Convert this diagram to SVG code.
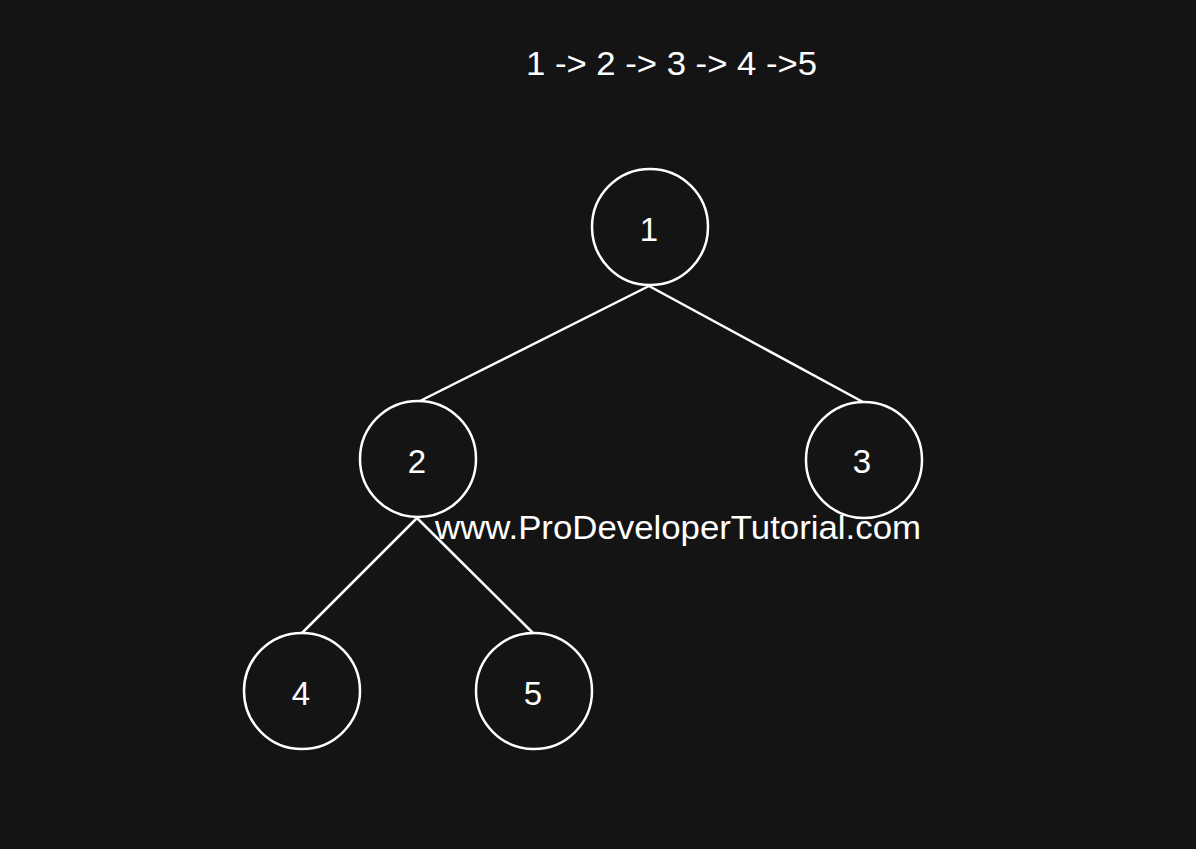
<svg xmlns="http://www.w3.org/2000/svg" width="1196" height="849" viewBox="0 0 1196 849">
<style>
.node circle{fill:#141414;stroke:#ffffff;stroke-width:2.5}
.node text{fill:#ffffff;font-family:"Liberation Sans",Arial,sans-serif;font-size:33px;text-anchor:middle}
.edges line{stroke:#ffffff;stroke-width:2.5}
.label{fill:#ffffff;font-family:"Liberation Sans",Arial,sans-serif;font-size:33px}
</style>
<rect width="1196" height="849" fill="#141414"/>
<text class="label" x="526" y="75" textLength="291" lengthAdjust="spacingAndGlyphs" font-size="32">1 -&gt; 2 -&gt; 3 -&gt; 4 -&gt;5</text>
<g id="connectors" class="edges">
<line x1="649" y1="286" x2="418" y2="402"/>
<line x1="649" y1="286" x2="863" y2="402"/>
<line x1="417" y1="518" x2="302" y2="633"/>
<line x1="417" y1="518" x2="533" y2="633"/>
</g>
<g id="node1" class="node"><circle cx="650" cy="227" r="58"/><text x="649" y="241">1</text></g>
<g id="node2" class="node"><circle cx="418" cy="459" r="58"/><text x="417" y="473">2</text></g>
<g id="node3" class="node"><circle cx="864" cy="460" r="58"/><text x="862" y="473">3</text></g>
<g id="node4" class="node"><circle cx="302" cy="691" r="58"/><text x="301" y="705">4</text></g>
<g id="node5" class="node"><circle cx="534" cy="691" r="58"/><text x="533" y="705">5</text></g>
<text class="label" x="435" y="539" textLength="486" lengthAdjust="spacingAndGlyphs">www.ProDeveloperTutorial.com</text>
</svg>
